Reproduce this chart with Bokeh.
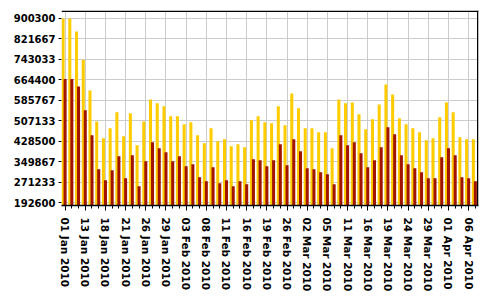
from bokeh.plotting import figure
from bokeh.models import Range1d, FixedTicker
from bokeh.embed import file_html
from bokeh.resources import INLINE

dates = ["01 Jan 2010", "11 Jan 2010", "12 Jan 2010", "13 Jan 2010", "14 Jan 2010", "15 Jan 2010",
         "18 Jan 2010", "19 Jan 2010", "20 Jan 2010", "21 Jan 2010", "22 Jan 2010", "25 Jan 2010",
         "26 Jan 2010", "27 Jan 2010", "28 Jan 2010", "29 Jan 2010", "01 Feb 2010", "02 Feb 2010",
         "03 Feb 2010", "04 Feb 2010", "05 Feb 2010", "08 Feb 2010", "09 Feb 2010", "10 Feb 2010",
         "11 Feb 2010", "12 Feb 2010", "15 Feb 2010", "16 Feb 2010", "17 Feb 2010", "18 Feb 2010",
         "19 Feb 2010", "22 Feb 2010", "24 Feb 2010", "26 Feb 2010", "28 Feb 2010", "01 Mar 2010",
         "02 Mar 2010", "03 Mar 2010", "04 Mar 2010", "05 Mar 2010", "08 Mar 2010", "09 Mar 2010",
         "11 Mar 2010", "12 Mar 2010", "15 Mar 2010", "16 Mar 2010", "17 Mar 2010", "18 Mar 2010",
         "19 Mar 2010", "22 Mar 2010", "23 Mar 2010", "24 Mar 2010", "25 Mar 2010", "26 Mar 2010",
         "29 Mar 2010", "30 Mar 2010", "31 Mar 2010", "01 Apr 2010", "02 Apr 2010", "05 Apr 2010",
         "06 Apr 2010", "07 Apr 2010"]

series_a = [900300, 900300, 850400, 741700, 624100, 504500, 440000, 478400, 539700, 447700,
            535900, 413200, 504500, 589600, 574300, 562800, 524400, 524400, 493700, 501400,
            451500, 420800, 478400, 428500, 436200, 409300, 417000, 405500, 509100, 524400,
            501400, 497600, 562800, 489900, 612600, 555100, 478400, 478400, 463000, 463000,
            401600, 589600, 574300, 578100, 532100, 474500, 512900, 570400, 647100, 608800,
            516700, 493700, 478400, 463000, 432300, 440000, 520600, 578100, 539700, 443900,
            436200, 436200]

series_b = [668000, 668000, 639500, 547400, 451500, 321100, 278900, 317300, 371000, 286600,
            374800, 255900, 351800, 424700, 401600, 386300, 351800, 371000, 332600, 340300,
            290400, 275100, 328800, 267400, 278900, 255900, 275100, 263600, 359500, 355600,
            332600, 355600, 417000, 336500, 436200, 390100, 324900, 321100, 309600, 301900,
            263600, 451500, 413200, 424700, 382500, 328800, 355600, 405500, 482200, 455400,
            374800, 340300, 324900, 309600, 286600, 286600, 367100, 401600, 374800, 290400,
            286600, 275100]

y_ticks = [192600, 271233, 349867, 428500, 507133, 585767, 664400, 743033, 821667, 900300]
y_labels = ["192600", "271233", "349867", "428500", "507133", "585767", "664400", "743033", "821667", "900300"]

n = len(dates)
idx = list(range(n))
label_step = 3
x_lo, x_hi = -0.53, n - 0.53
y_lo, y_hi = 182000, 931000

p = figure(width=495, height=300, output_backend="svg", toolbar_location=None,
           x_range=Range1d(x_lo, x_hi), y_range=Range1d(y_lo, y_hi),
           min_border_left=61, min_border_right=17, min_border_top=10, min_border_bottom=95,
           background_fill_color="white", border_fill_color="white")
p.outline_line_color = None

p.vbar(x=[i - 0.295 for i in idx], top=series_a, bottom=0, width=0.45,
       fill_color="#FFCC00", line_color=None)
p.vbar(x=[i + 0.005 for i in idx], top=series_b, bottom=0, width=0.45,
       fill_color="#A01400", line_color=None)

# frame border strips along the top and right edges (drawn as filled quads)
y_px = (y_hi - y_lo) / 195.0
x_px = (x_hi - x_lo) / 417.0
p.quad(left=[x_lo, x_hi - 1.5 * x_px], right=[x_hi, x_hi],
       top=[y_hi, y_hi], bottom=[y_hi - 1.5 * y_px, y_lo],
       fill_color="black", line_color=None)

xa = p.below[0]
xa.ticker = FixedTicker(ticks=list(range(0, n, label_step)), minor_ticks=idx)
xa.major_label_overrides = {i: dates[i] for i in range(0, n, label_step)}
xa.major_label_orientation = "vertical"
xa.major_label_text_font = "DejaVu Sans"
xa.major_label_text_font_style = "bold"
xa.major_label_text_font_size = "10.5px"
xa.major_label_text_color = "black"
xa.major_label_standoff = 7
xa.major_tick_out = 5
xa.major_tick_in = 0
xa.minor_tick_out = 3
xa.minor_tick_in = 0
xa.axis_line_color = "black"
xa.axis_line_width = 1.5
xa.major_tick_line_color = "black"
xa.minor_tick_line_color = "black"

ya = p.left[0]
ya.ticker = FixedTicker(ticks=y_ticks)
ya.major_label_overrides = {t: s for t, s in zip(y_ticks, y_labels)}
ya.major_label_text_font = "DejaVu Sans"
ya.major_label_text_font_style = "bold"
ya.major_label_text_font_size = "10px"
ya.major_label_text_color = "black"
ya.major_label_standoff = 3
ya.major_tick_out = 3
ya.major_tick_in = 0
ya.minor_tick_line_color = None
ya.axis_line_color = None
ya.major_tick_line_color = "black"

p.xgrid.grid_line_color = "#cccccc"
p.ygrid.grid_line_color = "#cccccc"

open("out.html", "w").write(file_html(p, INLINE))
